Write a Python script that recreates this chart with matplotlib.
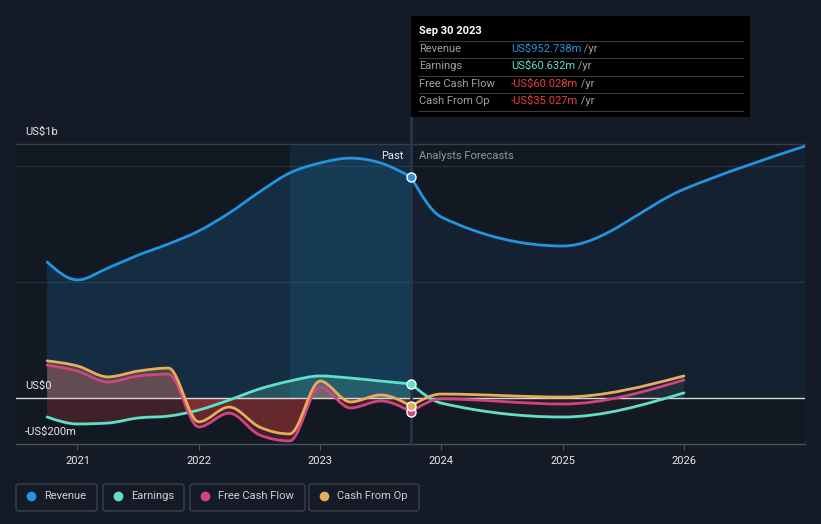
import numpy as np
import matplotlib
matplotlib.use("Agg")
import matplotlib.pyplot as plt
from matplotlib.path import Path
from matplotlib.patches import PathPatch, Rectangle, FancyBboxPatch

plt.rcParams['font.family'] = ['Roboto', 'DejaVu Sans']

# ---------------- data (US$ millions) ----------------
dates_past = [2020.75, 2021.0, 2021.25, 2021.5, 2021.75, 2022.0, 2022.25,
              2022.5, 2022.75, 2023.0, 2023.25, 2023.5, 2023.75]
revenue_past = [586, 509, 560, 616, 664, 720, 797, 888, 970, 1013, 1034, 1013, 952.738]
earnings_past = [-82, -112, -108, -86, -78, -52, -9, 39, 73, 95, 86, 73, 60.632]
fcf_past = [142, 116, 69, 95, 103, -125, -65, -159, -185, 47, -43, -13, -60.028]
cfo_past = [160, 138, 91, 116, 129, -103, -39, -125, -155, 73, -17, 13, -35.027]

dates_rev_fc = [2023.75, 2024.0, 2025.0, 2026.0, 2027.0]
revenue_fc = [952.738, 780, 655, 900, 1086]
dates_fc = [2023.75, 2024.0, 2025.0, 2026.0]
earnings_fc = [60.632, -22, -82, 22]
fcf_fc = [-60.028, -4, -26, 78]
cfo_fc = [-35.027, 17, 4, 95]

year_ticks = [2021, 2022, 2023, 2024, 2025, 2026]
year_labels = ['2021', '2022', '2023', '2024', '2025', '2026']

tooltip_date = 'Sep 30 2023'
tooltip_labels = ['Revenue', 'Earnings', 'Free Cash Flow', 'Cash From Op']
tooltip_values = ['US$952.738m', 'US$60.632m', '-US$60.028m', '-US$35.027m']
legend_labels = ['Revenue', 'Earnings', 'Free Cash Flow', 'Cash From Op']

# ---------------- style ----------------
BG = '#151b26'
C_REV = '#2394df'
C_EARN = '#5fe0c9'
C_FCF = '#d1457f'
C_CFO = '#e8ac5c'
C_RED = '#e8423f'
W, H = 821, 524
Y0, Y1 = -198.3, 1094.8


def fx(px):
    return px / W


def fy(py):
    return 1 - py / H


def mono_tangents(x, y):
    x = np.asarray(x, float)
    y = np.asarray(y, float)
    n = len(x)
    t = np.zeros(n)
    for i in range(1, n - 1):
        h0 = x[i] - x[i - 1]
        h1 = x[i + 1] - x[i]
        s0 = (y[i] - y[i - 1]) / h0
        s1 = (y[i + 1] - y[i]) / h1
        p = (s0 * h1 + s1 * h0) / (h0 + h1)
        t[i] = (np.sign(s0) + np.sign(s1)) * min(abs(s0), abs(s1), 0.5 * abs(p))
    if n > 2:
        t[0] = (3 * (y[1] - y[0]) / (x[1] - x[0]) - t[1]) / 2
        t[-1] = (3 * (y[-1] - y[-2]) / (x[-1] - x[-2]) - t[-2]) / 2
    else:
        t[:] = (y[1] - y[0]) / (x[1] - x[0])
    return t


def mono_curve(x, y):
    t = mono_tangents(x, y)
    verts = [(x[0], y[0])]
    codes = [Path.MOVETO]
    for i in range(len(x) - 1):
        dx = (x[i + 1] - x[i]) / 3
        verts += [(x[i] + dx, y[i] + dx * t[i]),
                  (x[i + 1] - dx, y[i + 1] - dx * t[i + 1]),
                  (x[i + 1], y[i + 1])]
        codes += [Path.CURVE4] * 3
    return verts, codes


def draw_line(ax, x, y, color, lw=2.0, z=5):
    v, c = mono_curve(x, y)
    ax.add_patch(PathPatch(Path(v, c), fill=False, edgecolor=color, lw=lw,
                           zorder=z, capstyle='round', joinstyle='round'))


def draw_area(ax, x, y, color, alpha, sign=0, z=2):
    v, c = mono_curve(x, y)
    v = v + [(x[-1], 0), (x[0], 0), (x[0], 0)]
    c = c + [Path.LINETO, Path.LINETO, Path.CLOSEPOLY]
    patch = PathPatch(Path(v, c), facecolor=color, edgecolor='none',
                      alpha=alpha, zorder=z)
    ax.add_patch(patch)
    if sign != 0:
        if sign > 0:
            clip = Rectangle((x[0], 0), x[-1] - x[0], 5000, transform=ax.transData)
        else:
            clip = Rectangle((x[0], -5000), x[-1] - x[0], 5000, transform=ax.transData)
        patch.set_clip_path(clip)


fig = plt.figure(figsize=(W / 100, H / 100), dpi=100, facecolor=BG)
ax = fig.add_axes([fx(16), fy(444), fx(805) - fx(16), fy(144) - fy(444)])
ax.set_facecolor('#131923')
ax.set_xlim(2020.493, 2026.998)
ax.set_ylim(Y0, Y1)

for s in ['left', 'right']:
    ax.spines[s].set_visible(False)
ax.spines['top'].set_color('#363f4c')
ax.spines['bottom'].set_color('#4a5260')
ax.spines['top'].set_linewidth(1)
ax.spines['bottom'].set_linewidth(1)
ax.set_yticks([])
ax.set_xticks(year_ticks)
ax.set_xticklabels(year_labels)
ax.tick_params(axis='x', length=4, color='#4a5260', labelcolor='#e8e8e8',
               labelsize=8, pad=5)

for g in [500, 1000]:
    ax.axhline(g, color='#252d39', lw=1, zorder=1)

# highlighted last-year band (above zero)
ax.axvspan(2022.75, 2023.75, ymin=(0 - Y0) / (Y1 - Y0), ymax=1, color=C_REV,
           alpha=0.12, lw=0, zorder=1)

# revenue areas
draw_area(ax, dates_past, revenue_past, C_REV, 0.17, z=2)
draw_area(ax, dates_rev_fc, revenue_fc, C_REV, 0.07, z=2)

# past cash/earnings areas
for series, col in [(earnings_past, C_EARN), (fcf_past, C_FCF), (cfo_past, C_CFO)]:
    draw_area(ax, dates_past, series, col, 0.22, sign=1, z=3)
    draw_area(ax, dates_past, series, C_RED, 0.22, sign=-1, z=3)
# forecast areas
for series in [earnings_fc, fcf_fc, cfo_fc]:
    draw_area(ax, dates_fc, series, '#8a8f99', 0.06, sign=1, z=3)
    draw_area(ax, dates_fc, series, C_RED, 0.05, sign=-1, z=3)

ax.axhline(0, color='#d8d8d8', lw=1, zorder=4)

# lines
draw_line(ax, dates_past, revenue_past, C_REV)
draw_line(ax, dates_rev_fc, revenue_fc, C_REV)
draw_line(ax, dates_past, earnings_past, C_EARN)
draw_line(ax, dates_fc, earnings_fc, C_EARN)
draw_line(ax, dates_past, fcf_past, C_FCF)
draw_line(ax, dates_fc, fcf_fc, C_FCF)
draw_line(ax, dates_past, cfo_past, C_CFO)
draw_line(ax, dates_fc, cfo_fc, C_CFO)

# vertical marker line up to tooltip
ax.axvline(2023.75, ymin=0, ymax=(444 - 117) / 300, color='#23364a', lw=2,
           clip_on=False, zorder=4)

# dots at the tooltip date
for series, col in [(revenue_past, C_REV), (earnings_past, C_EARN),
                    (fcf_past, C_FCF), (cfo_past, C_CFO)]:
    ax.plot([dates_past[-1]], [series[-1]], 'o', ms=6.5, mfc=col, mec='white',
            mew=1, zorder=7)

# y labels
fig.text(fx(25), fy(132), 'US$1b', color='#e8e8e8', fontsize=8, va='center')
fig.text(fx(25), fy(386), 'US$0', color='#e8e8e8', fontsize=8, va='center')
fig.text(fx(25), fy(432), '-US$200m', color='#e8e8e8', fontsize=8, va='center')

fig.text(fx(403), fy(156), 'Past', color='#e8e8e8', fontsize=8, va='center', ha='right')
fig.text(fx(419), fy(156), 'Analysts Forecasts', color='#8f96a0', fontsize=8, va='center')

# tooltip
fig.patches.append(Rectangle((fx(411), fy(117)), fx(750) - fx(411), fy(16) - fy(117),
                             transform=fig.transFigure, facecolor='black',
                             edgecolor='none', zorder=10))
fig.text(fx(419), fy(31), tooltip_date, color='white', fontsize=8,
         fontweight='bold', va='center', zorder=11)
for yy in [41, 58, 76, 93, 111]:
    fig.add_artist(plt.Line2D([fx(419), fx(743)], [fy(yy), fy(yy)], color='#3c3c3c',
                              lw=0.8, zorder=11))
row_y = [49, 66, 84, 101]
val_cols = [C_REV, C_EARN, C_RED, C_RED]
for lab, val, col, yy in zip(tooltip_labels, tooltip_values, val_cols, row_y):
    fig.text(fx(419), fy(yy), lab, color='#a0a0a0', fontsize=8, va='center', zorder=11)
    t = fig.text(fx(511), fy(yy), val, color=col, fontsize=8, va='center', zorder=11)
    fig.add_artist(matplotlib.text.Annotation(' /yr', xy=(1, 0.5), xycoords=t,
                                              va='center', ha='left', color='#a0a0a0',
                                              fontsize=8, zorder=11))

# legend
leg_boxes = [(16, 97), (103, 184), (190, 305), (309, 419)]
leg_cols = [C_REV, C_EARN, C_FCF, C_CFO]
for (x0, x1), lab, col in zip(leg_boxes, legend_labels, leg_cols):
    fig.patches.append(FancyBboxPatch((fx(x0), fy(511)), fx(x1) - fx(x0), fy(484) - fy(511),
                                      boxstyle='round,pad=0,rounding_size=0.004',
                                      transform=fig.transFigure, facecolor='none',
                                      edgecolor='#3a414d', lw=1))
    fig.add_artist(plt.Line2D([fx(x0 + 15)], [fy(496)], marker='o', ms=6,
                              color=col, mec=col, lw=0))
    fig.text(fx(x0 + 28), fy(496), lab, color='#d0d0d0', fontsize=8, va='center')

fig.savefig('out.png', dpi=100, facecolor=BG)
